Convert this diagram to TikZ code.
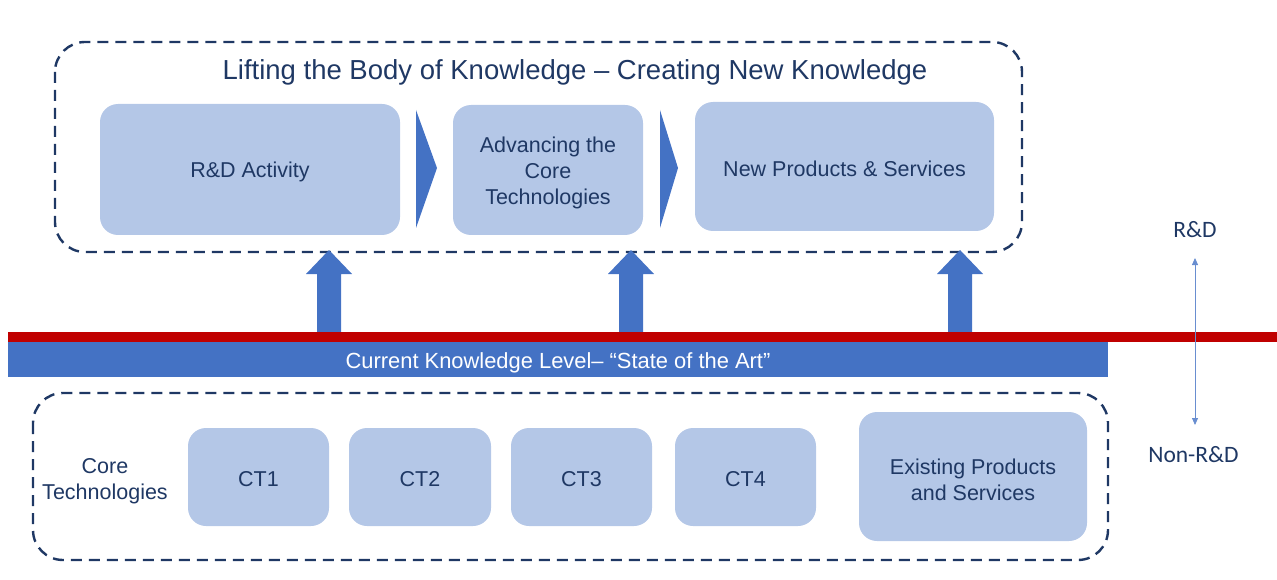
\documentclass[tikz,border=0pt]{standalone}
\usepackage{fontspec}
\setmainfont{Liberation Sans}
\newfontfamily\calfont{Carlito}
\usetikzlibrary{arrows.meta}
\definecolor{boxfill}{HTML}{B4C7E7}
\definecolor{navy}{HTML}{1F3864}
\definecolor{midblue}{HTML}{4472C4}
\definecolor{redline}{HTML}{C00000}
\tikzset{
  rbox/.style={fill=boxfill, rounded corners=18pt, inner sep=0pt},
  btext/.style={align=center, text=navy, inner sep=0pt, font=\fontsize{21.5}{26}\selectfont},
  dashbox/.style={draw=navy, line width=2.4pt, dash pattern=on 11pt off 7pt, rounded corners=30pt},
  chev/.style={fill=midblue},
  uparrow/.style={fill=midblue},
  sidelabel/.style={text=navy, font=\calfont\fontsize{23.5}{26}\selectfont, inner sep=0pt}
}
\begin{document}
\begin{tikzpicture}[x=1pt,y=-1pt]
\useasboundingbox (0,0) rectangle (1277,580);
% top dashed box
\draw[dashbox] (55,42) rectangle (1022,252);
\node[text=navy, font=\fontsize{27.5}{30}\selectfont, inner sep=0pt] (title) at (575,72) {Lifting the Body of Knowledge – Creating New Knowledge};
% top boxes
\node[rbox, minimum width=300pt, minimum height=131pt] (rd) at (250,169.5) {};
\node[btext] (rdt) at ([yshift=-2.5pt]rd.center) {R\&D Activity};
\node[rbox, minimum width=190pt, minimum height=130pt] (adv) at (548,170) {};
\node[btext] (advt) at ([yshift=-2.5pt]adv.center) {Advancing the\\Core\\Technologies};
\node[rbox, minimum width=299pt, minimum height=129pt] (newp) at (844.5,166.5) {};
\node[btext] (newpt) at ([yshift=-2pt]newp.center) {New Products \& Services};
% chevrons
\fill[chev] (416,110) -- (437,168) -- (416,228) -- cycle;
\fill[chev] (660,110) -- (678,168) -- (660,228) -- cycle;
% up arrows
\foreach \cx in {329,631,960}{
  \fill[uparrow] (\cx-12,333) -- (\cx-12,274) -- (\cx-23,274) -- (\cx,250) -- (\cx+23,274) -- (\cx+12,274) -- (\cx+12,333) -- cycle;
}
% red line and blue bar
\fill[redline] (8,332) rectangle (1277,342);
\fill[midblue] (8,342) rectangle (1108,377);
\node[text=white, font=\fontsize{21.9}{25}\selectfont, inner sep=0pt] (cur) at (558,362.5) {Current Knowledge Level– “State of the Art”};
% bottom dashed box
\draw[dashbox] (33,393) rectangle (1108,560);
\node[btext] (ct) at (105,481) {Core\\Technologies};
\node[rbox, minimum width=141pt, minimum height=98pt] (ct1) at (258.5,477) {};
\node[btext] (ct1t) at ([yshift=-2.5pt]ct1.center) {CT1};
\node[rbox, minimum width=142pt, minimum height=98pt] (ct2) at (420,477) {};
\node[btext] (ct2t) at ([yshift=-2.5pt]ct2.center) {CT2};
\node[rbox, minimum width=141pt, minimum height=98pt] (ct3) at (581.5,477) {};
\node[btext] (ct3t) at ([yshift=-2.5pt]ct3.center) {CT3};
\node[rbox, minimum width=141pt, minimum height=98pt] (ct4) at (745.5,477) {};
\node[btext] (ct4t) at ([yshift=-2.5pt]ct4.center) {CT4};
\node[rbox, minimum width=228pt, minimum height=129pt] (exist) at (973,476.5) {};
\node[btext] (existt) at ([yshift=-3pt]exist.center) {Existing Products\\and Services};
% side labels
\node[sidelabel] (rdl) at (1195,229.5) {R\&D};
\node[sidelabel] (nrdl) at (1193.5,455) {Non-R\&D};
\coordinate (atop) at (1195,258);
\coordinate (abot) at (1195,425);
\draw[midblue!80, line width=0.8pt, {Triangle[length=7pt,width=6pt]}-{Triangle[length=7pt,width=6pt]}] (atop) -- (abot);
\end{tikzpicture}
\end{document}
